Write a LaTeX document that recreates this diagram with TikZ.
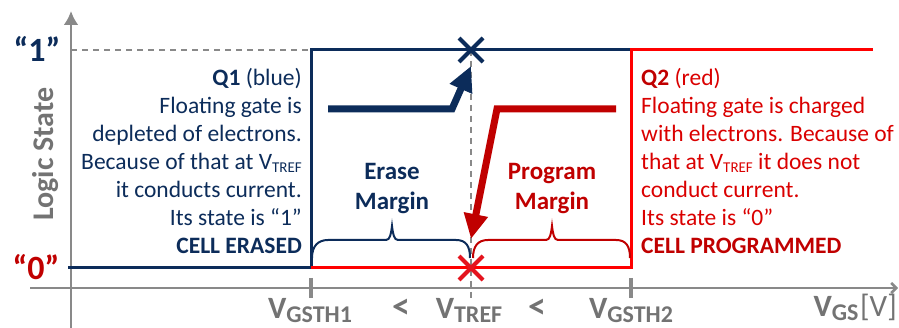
\documentclass[tikz,border=0pt]{standalone}
\usepackage{fontspec}
\setmainfont{Carlito}
\usetikzlibrary{arrows.meta, calc}
\definecolor{qblue}{RGB}{12,44,90}
\definecolor{qred}{RGB}{255,0,0}
\definecolor{qdred}{RGB}{192,0,0}
\definecolor{qtred}{RGB}{218,0,0}
\definecolor{xred}{RGB}{228,20,30}
\definecolor{axgray}{RGB}{137,137,137}
\definecolor{txgray}{RGB}{115,115,115}
\newcommand{\vsub}[1]{{\fontsize{31}{31}\selectfont V}{\fontsize{24}{24}\selectfont\raisebox{-4pt}{#1}}}
\newcommand{\vtref}{V{\fontsize{15}{15}\selectfont\raisebox{-3pt}{TREF}}}

\begin{document}
\begin{tikzpicture}[x=1pt, y=-1pt, >=Stealth,
                axis/.style={draw=axgray, line width=2.6pt},
                tick/.style={draw=axgray, line width=4pt},
                guide/.style={draw=axgray, line width=1.6pt, dash pattern=on 6pt off 5pt},
                qline/.style={line width=3pt},
                bigarrow/.style={line width=7pt, -{Triangle[length=25pt,width=23pt]}},
                brace/.style={line width=2pt},
                cross/.style={line width=4pt},
                desc/.style={inner sep=0pt, font=\fontsize{23.5}{28}\selectfont},
                margin/.style={inner sep=0pt, align=center, font=\bfseries\fontsize{25}{30}\selectfont},
                axlabel/.style={inner sep=0pt, text depth=0pt, text=txgray, font=\bfseries},
                lessthan/.style={axlabel, text height=12pt, font=\bfseries\fontsize{36}{36}\selectfont}
            ]

            \useasboundingbox (0,0) rectangle (899,328);

            % key points
            \coordinate (th1) at (311,268);
            \coordinate (th2) at (631,268);
            \coordinate (top) at (471,50);
            \coordinate (bot) at (471,268);

            % axes and guides
            \draw[guide] (71,50) -- (311,50);
            \draw[guide] (top) -- (471,300);
            \draw[axis, -{Latex[length=14pt,width=15pt]}] (71,328) -- (71,11);
            \draw[axis, -{Straight Barb[length=5pt,width=10pt]}] (30,288) -- (898,288);
            \draw[tick] (311,278) -- (311,298);
            \draw[tick] (631,278) -- (631,298);

            % transfer curves
            \draw[qline, qblue] (68,268) -- (th1) -- (311,50) -- (631,50);
            \draw[qline, qred] (th1) -- (th2) -- (631,50) -- (873,50);

            % shift arrows
            \draw[bigarrow, qblue] (328,109) -- (452,109) -- (471,66);
            \draw[bigarrow, qdred] (616,109) -- (497,109) -- (471,239);

            % crosses
            \draw[cross, qblue] ($(top)+(-12,-12)$) -- ($(top)+(12,12)$) ($(top)+(-12,12)$) -- ($(top)+(12,-12)$);
            \draw[cross, xred] ($(bot)+(-12,-12)$) -- ($(bot)+(12,12)$) ($(bot)+(-12,12)$) -- ($(bot)+(12,-12)$);

            % braces
            \draw[brace, qblue] (312,258) .. controls (312,246) and (318,240) .. (328,240) -- (386,240)
                .. controls (390,240) and (391,234) .. (392,226) .. controls (393,234) and (394,240) .. (398,240)
                -- (456,240) .. controls (466,240) and (470,246) .. (470,258);
            \draw[brace, qdred] (473,258) .. controls (473,246) and (478,240) .. (488,240) -- (546,240)
                .. controls (550,240) and (551,234) .. (552,226) .. controls (553,234) and (554,240) .. (558,240)
                -- (616,240) .. controls (626,240) and (630,246) .. (630,258);

            % texts
            \node[margin, text=qblue, anchor=north] (erase) at (392,163) {Erase\\Margin};
            \node[margin, text=qdred, anchor=north] (program) at (552,163) {Program\\Margin};
            \node[desc, text=qblue, align=right, anchor=north east] (q1) at (302,68)
                {\textbf{Q1} (blue)\\Floating gate is\\depleted of electrons.\\Because of that at \vtref\\it conducts current.\\Its state is “1”\\\textbf{CELL ERASED}};
            \node[desc, text=qtred, align=left, anchor=north west] (q2) at (641,68)
                {\textcolor{qdred}{\textbf{Q2}} (red)\\Floating gate is charged\\with electrons. Because of\\that at \vtref{} it does not\\conduct current.\\Its state is “0”\\\textcolor{qdred}{\textbf{CELL PROGRAMMED}}};

            % axis labels
            \node[inner sep=0pt, anchor=base, text=qblue, font=\bfseries\fontsize{34}{34}\selectfont] (one) at (37,62) {“1”};
            \node[inner sep=0pt, anchor=base, text=qdred, font=\bfseries\fontsize{34}{34}\selectfont] (zero) at (36,280) {“0”};
            \node[axlabel, rotate=90, anchor=base, font=\bfseries\fontsize{30}{30}\selectfont] (ylab) at (53,154) {Logic State};
            \node[axlabel, anchor=base] (vth1) at (310,319) {\vsub{GSTH1}};
            \node[lessthan, anchor=base] (lt1) at (401,319) {<};
            \node[axlabel, anchor=base] (vtr) at (469,319) {\vsub{TREF}};
            \node[lessthan, anchor=base] (lt2) at (537,319) {<};
            \node[axlabel, anchor=base] (vth2) at (631,319) {\vsub{GSTH2}};
            \node[axlabel, anchor=base east] (vgs) at (897,317) {\vsub{GS}\,{\mdseries\fontsize{31}{31}\selectfont[V]}};
        \end{tikzpicture}
\end{document}
